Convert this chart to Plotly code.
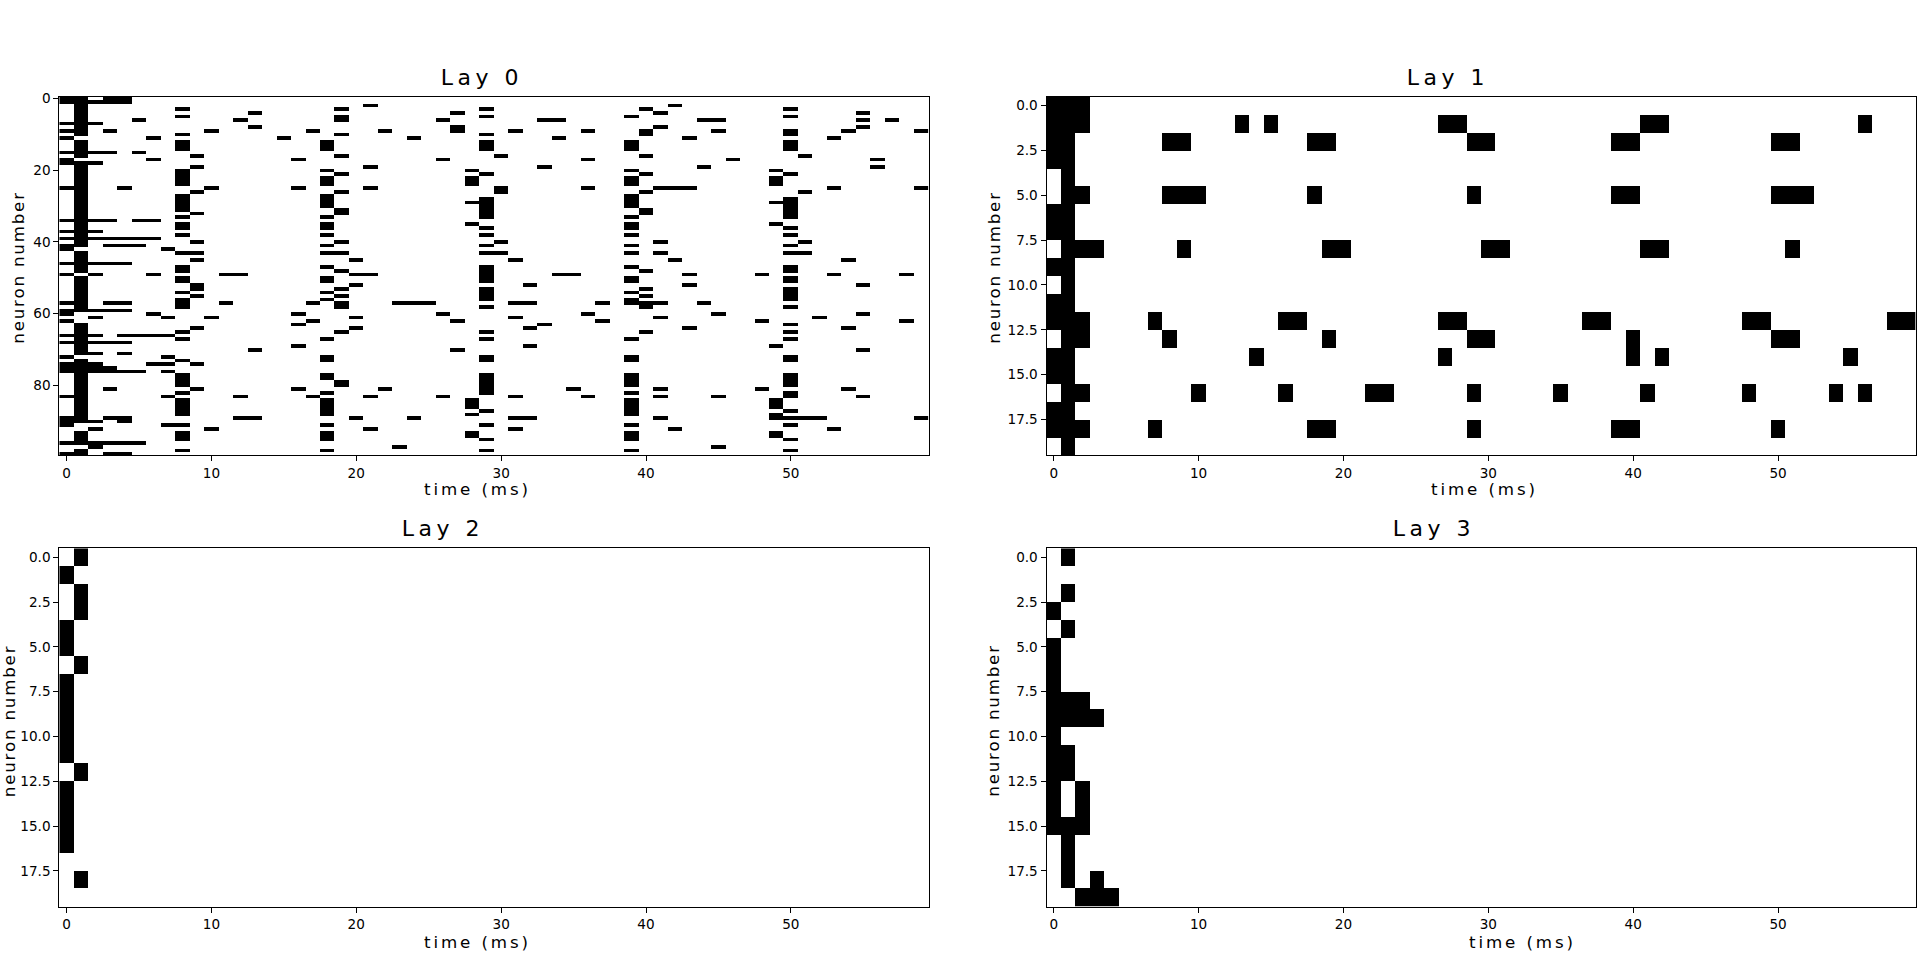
import numpy as np
import plotly.graph_objects as go

# Spike rasters: for each layer, the neuron numbers that fire in each time bin (ms)
n_steps = 60
lay0_neurons = 100
lay1_neurons = lay2_neurons = lay3_neurons = 20

lay0_spikes = {
    0: [0,1,7,9,11,15,17,18,25,34,37,39,41,42,46,49,57,59,60,62,66,68,72,74,75,76,83,89,90,91,96,99],
    1: [0,1,2,3,4,5,6,7,8,9,10,12,13,14,15,16,18,19,20,21,22,23,24,25,26,27,28,29,30,31,32,33,34,35,36,37,38,39,40,41,
        43,44,45,46,47,48,50,51,52,53,54,55,56,57,58,59,63,64,65,66,67,68,69,70,71,73,74,75,76,77,78,79,80,81,82,83,84,
        85,86,87,88,89,90,93,94,95,96,98,99],
    2: [1,7,15,18,34,37,39,46,49,59,61,66,68,71,74,75,76,90,92,96,97],
    3: [0,1,9,15,34,39,41,46,57,59,68,75,76,81,89,96,99],
    4: [0,1,25,39,41,46,57,59,66,68,71,76,89,90,96,99],
    5: [6,15,34,39,41,66,76,96],
    6: [11,17,34,39,49,60,66,74],
    7: [42,61,66,72,74,76,83,91],
    8: [3,5,10,12,13,14,20,21,22,23,24,27,28,29,30,31,33,35,36,38,43,47,48,50,51,54,56,57,58,65,67,73,77,78,79,80,82,
        84,85,86,87,88,91,93,94,95,98],
    9: [16,19,26,32,40,43,45,52,53,55,64,74,81],
    10: [9,25,61,92],
    11: [49,57],
    12: [6,49,83,89],
    13: [4,8,70,89],
    15: [11],
    16: [17,25,60,63,69,81],
    17: [9,57,62,83],
    18: [12,13,14,20,22,23,24,27,28,29,30,33,35,36,38,41,43,47,50,51,54,56,67,72,73,77,78,82,84,85,86,87,88,91,93,94,95,98],
    19: [3,5,6,10,16,21,26,31,32,40,43,48,53,55,57,58,65,79,80],
    20: [45,49,52,61,64,89],
    21: [2,19,25,49,83,92],
    22: [9,81],
    23: [57,97],
    24: [11,57,89],
    25: [57],
    26: [6,17,60,83],
    27: [4,8,9,62,70],
    28: [20,22,23,24,29,35,84,85,86,88,93,94],
    29: [3,5,10,12,13,14,21,28,29,30,31,32,33,36,38,41,43,47,48,49,50,51,53,54,55,56,58,65,67,72,73,77,78,79,80,81,82,87,91,95,98],
    30: [16,25,26,40,43],
    31: [9,45,57,61,83,89,92],
    32: [52,57,64,69,89],
    33: [6,19,63],
    34: [6,11,49],
    35: [49,81],
    36: [9,17,25,60,83],
    37: [57,62],
    39: [5,12,13,14,20,22,23,24,27,28,29,30,33,35,36,38,41,43,47,50,51,54,56,57,67,72,73,77,78,79,80,82,84,85,86,87,88,91,93,94,95,98],
    40: [3,9,10,16,21,26,31,32,48,53,55,57,58,65],
    41: [4,8,25,40,43,57,61,81,83,89],
    42: [2,25,45,92],
    43: [11,25,49,52,64],
    44: [6,19,57],
    45: [6,9,60,83,97],
    46: [17],
    48: [49,62,81],
    49: [20,22,23,24,29,35,69,84,85,86,88,89,93,94],
    50: [3,5,9,10,12,13,14,21,28,29,30,31,32,33,36,38,41,43,47,48,50,51,53,54,55,56,58,63,65,67,72,73,77,78,79,80,82,83,87,89,91,95,98],
    51: [16,26,40,43,89],
    52: [61,89],
    53: [11,25,49,92],
    54: [9,45,64,81],
    55: [4,6,8,52,60,70,83],
    56: [17,19],
    57: [6],
    58: [49,62],
    59: [9,25,89],
}

# Per neuron: the time bins in which it fires
lay1_spikes = [
    [0,1,2],
    [0,1,2,13,15,27,28,41,42,56],
    [0,1,8,9,18,19,29,30,39,40,50,51],
    [0,1],
    [1],
    [1,2,8,9,10,18,29,39,40,50,51,52],
    [0,1],
    [0,1],
    [1,2,3,9,19,20,30,31,41,42,51],
    [0,1],
    [1],
    [0,1],
    [0,1,2,7,16,17,27,28,37,38,48,49,58,59],
    [1,2,8,19,29,30,40,50,51],
    [0,1,14,27,40,42,55],
    [0,1],
    [1,2,10,16,22,23,29,35,41,48,54,56],
    [0,1],
    [0,1,2,7,18,19,29,39,40,50],
    [1],
]
lay2_spikes = [[1],[0],[1],[1],[0],[0],[1],[0],[0],[0],[0],[0],[1],[0],[0],[0],[0],[],[1],[]]
lay3_spikes = [[1],[],[1],[0],[1],[0],[0],[0],[0,1,2],[0,1,2,3],[0],[0,1],[0,1],[0,2],[0,2],
               [0,1,2],[1],[1],[1,3],[2,3,4]]

titles = ["Lay 0", "Lay 1", "Lay 2", "Lay 3"]
x_label = "time (ms)"
y_label = "neuron number"
x_ticks = [0, 10, 20, 30, 40, 50]
y_ticks_lay0 = [0, 20, 40, 60, 80]
y_ticks_small = [0, 2.5, 5, 7.5, 10, 12.5, 15, 17.5]


def raster_from_columns(spikes, rows):
    z = np.zeros((rows, n_steps))
    for t, neurons in spikes.items():
        z[neurons, t] = 1
    return z


def raster_from_rows(spikes):
    z = np.zeros((len(spikes), n_steps))
    for n, times in enumerate(spikes):
        z[n, times] = 1
    return z


rasters = [
    raster_from_columns(lay0_spikes, lay0_neurons),
    raster_from_rows(lay1_spikes),
    raster_from_rows(lay2_spikes),
    raster_from_rows(lay3_spikes),
]

W, H = 1920, 975
# panel boxes in pixels: left, right, top, bottom
boxes = [(59.3, 928.5, 96.7, 455.3), (1046.5, 1915.7, 96.7, 455.3),
         (59.3, 928.5, 548.3, 906.7), (1046.5, 1915.7, 548.3, 906.7)]
title_pos = [(482, 86), (1448, 86), (443, 537), (1434, 537)]
xlabel_pos = [(477, 495), (1484, 495), (477, 948), (1522, 948)]
ylabel_pos = [(18, 268), (994, 268), (8.5, 721), (993, 721)]

fig = go.Figure()
annotations = []
TICK_FONT = dict(family="DejaVu Sans", size=13.6, color="black")

for i, z in enumerate(rasters):
    l, r, t, b = boxes[i]
    suffix = "" if i == 0 else str(i + 1)
    fig.add_trace(go.Heatmap(
        z=z, x=list(range(n_steps)), y=list(range(z.shape[0])),
        zmin=0, zmax=1, showscale=False, hoverinfo="skip",
        colorscale=[[0, "white"], [1, "black"]],
        xaxis="x" + suffix, yaxis="y" + suffix,
    ))
    fig.update_layout({
        "xaxis" + suffix: dict(
            domain=[l / W, r / W], range=[-0.5, n_steps - 0.5], anchor="y" + suffix,
            automargin=False,
            tickmode="array", tickvals=x_ticks, ticks="outside", ticklen=5, tickwidth=1,
            tickcolor="black", tickfont=TICK_FONT, showgrid=False, zeroline=False,
            showline=True, linecolor="black", linewidth=1, mirror=True,
        ),
        "yaxis" + suffix: dict(
            domain=[1 - b / H, 1 - t / H], range=[z.shape[0] - 0.5, -0.5], anchor="x" + suffix,
            automargin=False,
            tickmode="array",
            tickvals=y_ticks_lay0 if i == 0 else y_ticks_small,
            ticktext=[str(v) for v in y_ticks_lay0] if i == 0 else [f"{v:.1f}" for v in y_ticks_small],
            ticks="outside", ticklen=5, tickwidth=1,
            tickcolor="black", tickfont=TICK_FONT, showgrid=False, zeroline=False,
            showline=True, linecolor="black", linewidth=1, mirror=True,
        ),
    })
    annotations.append(dict(text=titles[i], x=title_pos[i][0] / W, y=1 - title_pos[i][1] / H,
                            xref="paper", yref="paper", xanchor="center", yanchor="bottom",
                            showarrow=False, yshift=-5, borderpad=0,
                            font=dict(family="DejaVu Sans", size=22, color="black")))
    annotations.append(dict(text=x_label, x=xlabel_pos[i][0] / W, y=1 - xlabel_pos[i][1] / H,
                            xref="paper", yref="paper", xanchor="center", yanchor="bottom",
                            showarrow=False, yshift=-5, borderpad=0,
                            font=dict(family="DejaVu Sans", size=16.7, color="black")))
    annotations.append(dict(text=y_label, x=ylabel_pos[i][0] / W, y=1 - ylabel_pos[i][1] / H,
                            xref="paper", yref="paper", xanchor="center", yanchor="middle",
                            showarrow=False, textangle=-90, borderpad=0,
                            font=dict(family="DejaVu Sans", size=16.7, color="black")))

fig.update_layout(width=W, height=H, margin=dict(l=0, r=0, t=0, b=0),
                  paper_bgcolor="white", plot_bgcolor="white", annotations=annotations)

# Page has no margin; titles and labels are letter-spaced as in the reference
post = """
document.body.style.margin = '0';
document.body.style.overflow = 'hidden';
document.querySelectorAll('.annotation-text').forEach(function (el) {
    var txt = el.textContent;
    var sp = txt.indexOf('Lay') === 0 ? '4.5px' : (txt.indexOf('time') === 0 ? '2.9px' : '1.8px');
    el.style.letterSpacing = sp;
});
"""
fig.write_html("out.html", post_script=post, config={"displayModeBar": False})
